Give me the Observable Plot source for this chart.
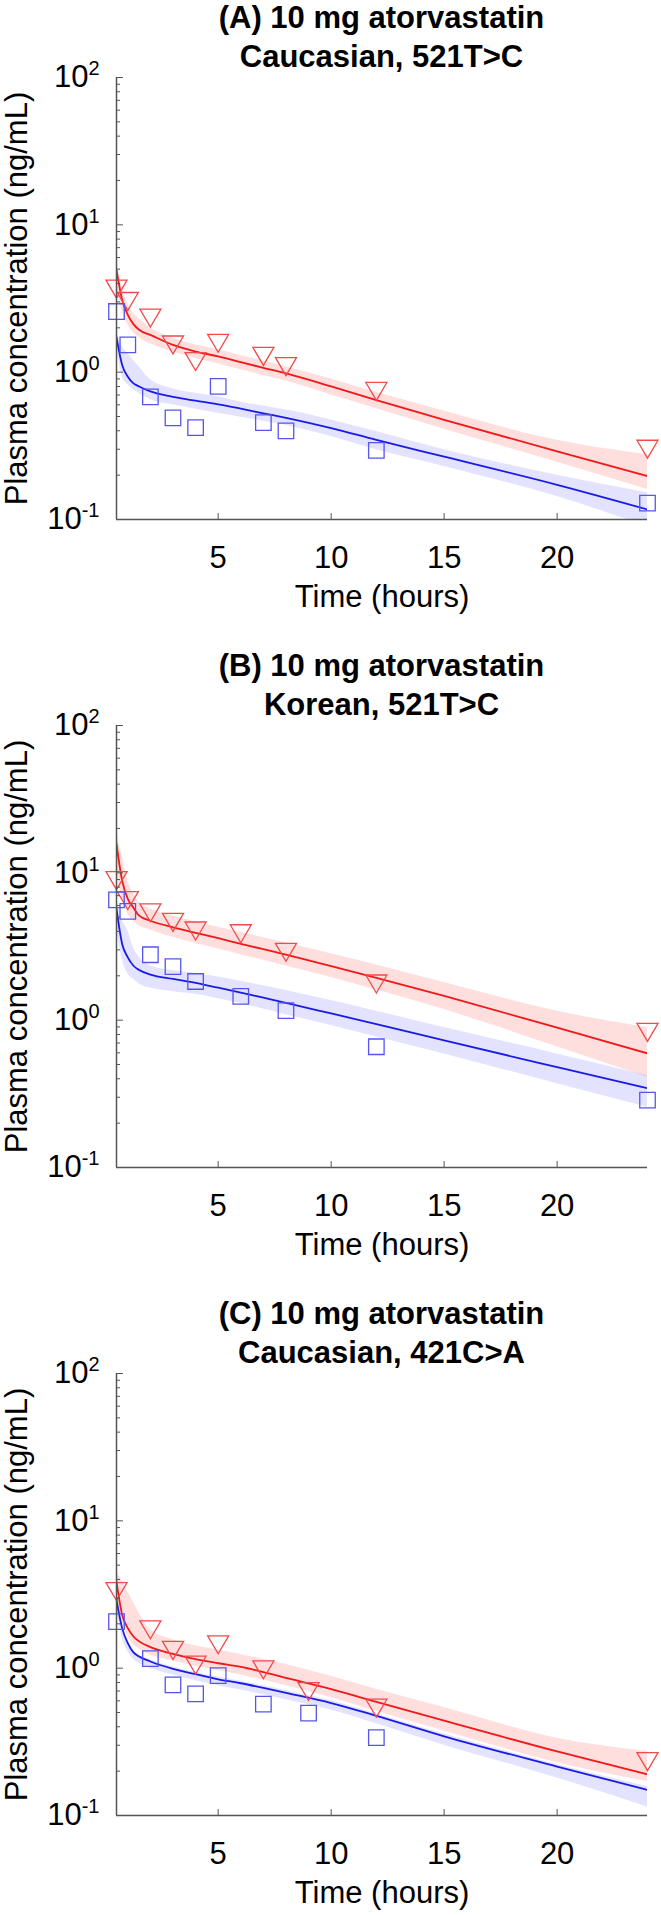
<!DOCTYPE html>
<html><head><meta charset="utf-8">
<script src="https://cdn.jsdelivr.net/npm/d3@7"></script>
<script src="https://cdn.jsdelivr.net/npm/@observablehq/plot@0.6"></script>
<style>
html,body{margin:0;padding:0;background:#fff;overflow:hidden;}
.panel{position:relative;width:661px;overflow:hidden;}
.title{height:66px;position:relative;}
.title div{position:absolute;top:-2px;left:102px;width:559px;text-align:center;font:bold 31px "Liberation Sans",Arial,sans-serif;line-height:39px;color:#000;}
</style></head><body><div id="root"></div>
<script>
// ---------- data ----------
const xTicks = [5, 10, 15, 20];
const yMajorTicks = [0.1, 1, 10, 100];
const yMinorTicks = [0.2, 0.3, 0.4, 0.5, 0.6, 0.7, 0.8, 0.9, 2, 3, 4, 5, 6, 7, 8, 9, 20, 30, 40, 50, 60, 70, 80, 90];
const modelTimes = [0.5, 0.75, 1, 1.25, 1.5, 2, 3, 4, 5, 6, 7, 8, 10, 12, 15, 20, 24];

const titlesA = ["(A) 10 mg atorvastatin", "Caucasian, 521T>C"];
const titlesB = ["(B) 10 mg atorvastatin", "Korean, 521T>C"];
const titlesC = ["(C) 10 mg atorvastatin", "Caucasian, 421C>A"];

// Panel A
const A_redLine  = [4.95, 3.1, 2.45, 2.12, 1.94, 1.79, 1.53, 1.38, 1.28, 1.17, 1.07, 0.98, 0.80, 0.645, 0.475, 0.29, 0.197];
const A_redHi    = [5.6, 3.8, 2.9, 2.5, 2.3, 2.0, 1.7, 1.53, 1.42, 1.3, 1.19, 1.09, 0.9, 0.73, 0.545, 0.345, 0.275];
const A_redLo    = [3.6, 2.6, 2.1, 1.85, 1.72, 1.56, 1.37, 1.24, 1.14, 1.04, 0.95, 0.87, 0.70, 0.565, 0.41, 0.245, 0.16];
const A_blueLine = [1.73, 1.12, 0.93, 0.84, 0.80, 0.74, 0.68, 0.64, 0.605, 0.565, 0.526, 0.49, 0.417, 0.347, 0.267, 0.172, 0.117];
const A_blueHi   = [1.89, 1.49, 1.35, 1.2, 1.09, 0.89, 0.77, 0.72, 0.68, 0.625, 0.59, 0.555, 0.474, 0.395, 0.297, 0.2, 0.152];
const A_blueLo   = [1.57, 0.93, 0.82, 0.76, 0.72, 0.65, 0.60, 0.56, 0.526, 0.495, 0.465, 0.435, 0.366, 0.297, 0.229, 0.143, 0.0895];
const A_obsTimes = [0.5, 1, 2, 3, 4, 5, 7, 8, 12, 24];
const A_redObs   = [3.66, 3.02, 2.33, 1.53, 1.18, 1.57, 1.28, 1.09, 0.74, 0.30];
const A_blueObs  = [2.58, 1.53, 0.68, 0.49, 0.42, 0.80, 0.455, 0.40, 0.295, 0.129];

// Panel B
const B_redLine  = [15.7, 8.85, 6.65, 5.8, 5.12, 4.73, 4.27, 3.92, 3.6, 3.3, 3.03, 2.78, 2.33, 1.94, 1.46, 0.89, 0.595];
const B_redHi    = [19.3, 13.0, 8.85, 7.2, 6.3, 5.69, 5.12, 4.65, 4.28, 3.95, 3.63, 3.35, 2.82, 2.37, 1.8, 1.15, 0.89];
const B_redLo    = [10.4, 6.8, 5.26, 4.7, 4.38, 4.1, 3.65, 3.32, 3.04, 2.78, 2.55, 2.33, 1.95, 1.6, 1.18, 0.66, 0.41];
const B_blueLine = [5.69, 3.29, 2.67, 2.34, 2.19, 2.04, 1.905, 1.79, 1.66, 1.54, 1.42, 1.31, 1.11, 0.94, 0.728, 0.48, 0.345];
const B_blueHi   = [6.82, 4.8, 4.05, 3.1, 2.67, 2.34, 2.17, 2.08, 1.96, 1.84, 1.71, 1.59, 1.36, 1.15, 0.89, 0.59, 0.42];
const B_blueLo   = [4.27, 2.6, 2.06, 1.9, 1.76, 1.65, 1.56, 1.5, 1.4, 1.3, 1.19, 1.09, 0.92, 0.77, 0.59, 0.37, 0.256];
const B_obsTimes = [0.5, 1, 2, 3, 4, 6, 8, 12, 24];
const B_redObs   = [8.85, 6.48, 5.35, 4.61, 4.03, 3.86, 2.89, 1.76, 0.826];
const B_blueObs  = [6.55, 5.48, 2.78, 2.31, 1.83, 1.45, 1.16, 0.66, 0.287];

// Panel C
const C_redLine  = [3.87, 2.3, 1.87, 1.64, 1.52, 1.39, 1.25, 1.15, 1.08, 1.02, 0.94, 0.86, 0.72, 0.59, 0.44, 0.272, 0.19];
const C_redHi    = [4.53, 3.9, 3.28, 2.8, 2.36, 1.82, 1.56, 1.42, 1.33, 1.24, 1.15, 1.06, 0.88, 0.72, 0.54, 0.335, 0.272];
const C_redLo    = [3.23, 2.1, 1.64, 1.45, 1.35, 1.23, 1.12, 1.03, 0.96, 0.9, 0.83, 0.76, 0.63, 0.51, 0.375, 0.228, 0.17];
const C_blueLine = [2.91, 1.87, 1.48, 1.28, 1.2, 1.11, 0.99, 0.91, 0.84, 0.79, 0.735, 0.68, 0.58, 0.475, 0.345, 0.215, 0.149];
const C_blueHi   = [3.06, 1.95, 1.51, 1.32, 1.23, 1.14, 1.02, 0.94, 0.87, 0.815, 0.76, 0.705, 0.60, 0.49, 0.357, 0.222, 0.157];
const C_blueLo   = [2.62, 1.6, 1.30, 1.15, 1.08, 1.0, 0.90, 0.82, 0.76, 0.71, 0.66, 0.61, 0.52, 0.42, 0.30, 0.18, 0.114];
const C_redTimes = [0.5, 2, 3, 4, 5, 7, 9, 12, 24];
const C_redObs   = [3.31, 1.82, 1.32, 1.05, 1.44, 0.974, 0.694, 0.535, 0.232];
const C_blueTimes = [0.5, 2, 3, 4, 5, 7, 9, 12];
const C_blueObs  = [2.07, 1.16, 0.77, 0.67, 0.89, 0.57, 0.495, 0.338];

// ---------- drawing ----------
const FONT = '"Liberation Sans", Arial, sans-serif';
const triDown = {
  draw(ctx, size) {
    const r = Math.sqrt(size / Math.PI);
    ctx.moveTo(-1.35 * r, -1.15 * r);
    ctx.lineTo(1.35 * r, -1.15 * r);
    ctx.lineTo(0, 1.15 * r);
    ctx.closePath();
  }
};

function makePanel(titles, blockHeight, d) {
  const panel = document.createElement("div");
  panel.className = "panel";
  panel.style.height = blockHeight + "px";
  const title = document.createElement("div");
  title.className = "title";
  const inner = document.createElement("div");
  titles.forEach((s, i) => {
    if (i) inner.appendChild(document.createElement("br"));
    inner.appendChild(document.createTextNode(s));
  });
  title.appendChild(inner);
  panel.appendChild(title);

  const model = modelTimes.map((t, i) => ({
    t, rl: d.redLine[i], rlo: d.redLo[i], rhi: d.redHi[i],
    bl: d.blueLine[i], blo: d.blueLo[i], bhi: d.blueHi[i]
  }));
  const red = d.redTimes.map((t, i) => ({t, v: d.redObs[i]}));
  const blue = d.blueTimes.map((t, i) => ({t, v: d.blueObs[i]}));

  const svgH = blockHeight - 66;
  const plotH = 442;
  const mt = 11;
  const svg = Plot.plot({
    width: 661,
    height: svgH,
    marginLeft: 116,
    marginRight: 14,
    marginTop: mt,
    marginBottom: svgH - mt - plotH,
    x: {domain: [0.5, 24], axis: null},
    y: {type: "log", domain: [0.1, 100], axis: null},
    style: {fontFamily: FONT, fontSize: "31px", color: "#000", background: "white", overflow: "visible"},
    marks: [
      Plot.areaY(model, {x: "t", y1: "rlo", y2: "rhi", fill: "#ff0000", fillOpacity: 0.13, curve: "monotone-x", clip: true}),
      Plot.areaY(model, {x: "t", y1: "blo", y2: "bhi", fill: "#0000ff", fillOpacity: 0.11, curve: "monotone-x", clip: true}),
      Plot.lineY(model, {x: "t", y: "rl", stroke: "#f01818", strokeWidth: 1.8, curve: "monotone-x", clip: true}),
      Plot.lineY(model, {x: "t", y: "bl", stroke: "#1a1ae6", strokeWidth: 1.8, curve: "monotone-x", clip: true}),
      Plot.dot(red, {x: "t", y: "v", symbol: triDown, r: 7.8, stroke: "#f04a4a", strokeWidth: 1.3, fill: "none"}),
      Plot.dot(blue, {x: "t", y: "v", symbol: "square", r: 8.75, stroke: "#5555ee", strokeWidth: 1.3, fill: "none"}),
      Plot.ruleX([0.5], {stroke: "#555", strokeWidth: 1.5}),
      Plot.ruleY([0.1], {stroke: "#555", strokeWidth: 1.5}),
      Plot.axisY({ticks: yMinorTicks, tickSize: -4, tickFormat: () => "", stroke: "#555", label: null}),
      Plot.axisY({ticks: yMajorTicks, tickSize: -7, tickPadding: 24, stroke: "#555", fill: "#000", fontSize: 31,
                  tickFormat: v => String(Math.round(Math.log10(v))), label: null}),
      Plot.axisX({ticks: xTicks, tickSize: -6, tickPadding: 32, stroke: "#555", fill: "#000", fontSize: 31, label: null}),
      Plot.text(["Time (hours)"], {text: s => s, frameAnchor: "bottom", lineAnchor: "middle", textAnchor: "middle", dy: 78, fontSize: 31, fill: "#000"}),
      Plot.text(["Plasma concentration (ng/mL)"], {text: s => s, frameAnchor: "left", lineAnchor: "middle", textAnchor: "middle", rotate: -90, dx: -99, fontSize: 31, fill: "#000"})
    ]
  });
  // superscript exponents on the y tick labels
  svg.querySelectorAll('g[aria-label="y-axis tick label"] text').forEach(t => {
    const e = t.textContent;
    if (!e) return;
    t.textContent = "";
    const ns = "http://www.w3.org/2000/svg";
    const base = document.createElementNS(ns, "tspan");
    base.textContent = "10";
    const sup = document.createElementNS(ns, "tspan");
    sup.textContent = e;
    sup.setAttribute("font-size", "20");
    sup.setAttribute("dy", "-12");
    t.appendChild(base);
    t.appendChild(sup);
  });
  panel.appendChild(svg);
  return panel;
}

const root = document.getElementById("root");
root.appendChild(makePanel(titlesA, 648, {
  redLine: A_redLine, redLo: A_redLo, redHi: A_redHi, blueLine: A_blueLine, blueLo: A_blueLo, blueHi: A_blueHi,
  redTimes: A_obsTimes, redObs: A_redObs, blueTimes: A_obsTimes, blueObs: A_blueObs
}));
root.appendChild(makePanel(titlesB, 648, {
  redLine: B_redLine, redLo: B_redLo, redHi: B_redHi, blueLine: B_blueLine, blueLo: B_blueLo, blueHi: B_blueHi,
  redTimes: B_obsTimes, redObs: B_redObs, blueTimes: B_obsTimes, blueObs: B_blueObs
}));
root.appendChild(makePanel(titlesC, 619, {
  redLine: C_redLine, redLo: C_redLo, redHi: C_redHi, blueLine: C_blueLine, blueLo: C_blueLo, blueHi: C_blueHi,
  redTimes: C_redTimes, redObs: C_redObs, blueTimes: C_blueTimes, blueObs: C_blueObs
}));
</script></body></html>
